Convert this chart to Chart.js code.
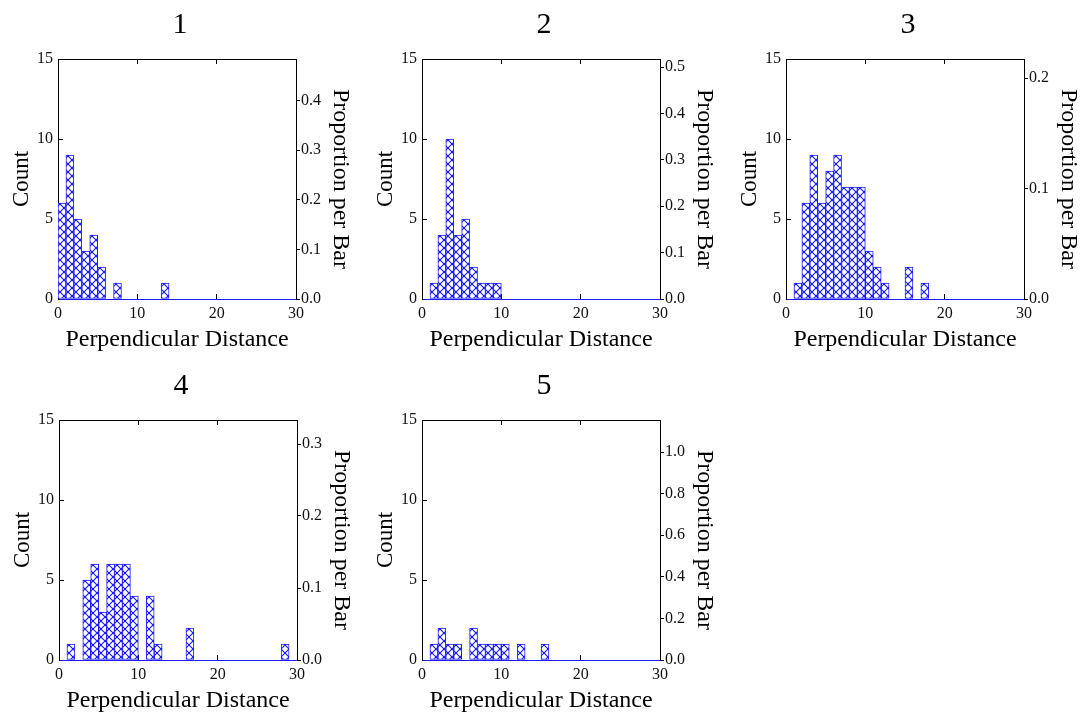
<!DOCTYPE html>
<html>
<head>
<meta charset="utf-8">
<script src="https://cdn.jsdelivr.net/npm/chart.js@4"></script>
<style>
html, body { margin: 0; padding: 0; background: #fff; overflow: hidden; width: 1080px; height: 713px; }
canvas { position: absolute; }
</style>
</head>
<body>
<canvas id="c1" width="360" height="360" style="left:0px;top:0px"></canvas>
<canvas id="c2" width="360" height="360" style="left:364px;top:0px"></canvas>
<canvas id="c3" width="360" height="360" style="left:728px;top:0px"></canvas>
<canvas id="c4" width="360" height="360" style="left:1px;top:361px"></canvas>
<canvas id="c5" width="360" height="360" style="left:364px;top:361px"></canvas>
<script>
// ---- data ----
const binCenters = [0.5, 1.5, 2.5, 3.5, 4.5, 5.5, 6.5, 7.5, 8.5, 9.5,
                    10.5, 11.5, 12.5, 13.5, 14.5, 15.5, 16.5, 17.5, 18.5, 19.5,
                    20.5, 21.5, 22.5, 23.5, 24.5, 25.5, 26.5, 27.5, 28.5, 29.5];
const panelTitles = ['1', '2', '3', '4', '5'];
const counts1 = [6, 9, 5, 3, 4, 2, 0, 1, 0, 0, 0, 0, 0, 1, 0, 0, 0, 0, 0, 0, 0, 0, 0, 0, 0, 0, 0, 0, 0, 0];
const counts2 = [0, 1, 4, 10, 4, 5, 2, 1, 1, 1, 0, 0, 0, 0, 0, 0, 0, 0, 0, 0, 0, 0, 0, 0, 0, 0, 0, 0, 0, 0];
const counts3 = [0, 1, 6, 9, 6, 8, 9, 7, 7, 7, 3, 2, 1, 0, 0, 2, 0, 1, 0, 0, 0, 0, 0, 0, 0, 0, 0, 0, 0, 0];
const counts4 = [0, 1, 0, 5, 6, 3, 6, 6, 6, 4, 0, 4, 1, 0, 0, 0, 2, 0, 0, 0, 0, 0, 0, 0, 0, 0, 0, 0, 1, 0];
const counts5 = [0, 1, 2, 1, 1, 0, 2, 1, 1, 1, 1, 0, 1, 0, 0, 1, 0, 0, 0, 0, 0, 0, 0, 0, 0, 0, 0, 0, 0, 0];
const distanceRange = [0, 30];
const distanceStep = 10;
const countRange = [0, 15];
const countStep = 5;
const xTitle = 'Perpendicular Distance';
const yTitle = 'Count';
const y2Title = 'Proportion per Bar';

// ---- styling ----
const BLUE = '#1c1cff';
const SERIF = '"Liberation Serif", "Times New Roman", serif';

function makePattern() {
  const c = document.createElement('canvas');
  c.width = 8; c.height = 8;
  const g = c.getContext('2d');
  g.fillStyle = '#fff';
  g.fillRect(0, 0, 8, 8);
  g.strokeStyle = BLUE;
  g.lineWidth = 1.1;
  g.beginPath();
  g.moveTo(-1, -1); g.lineTo(9, 9);
  g.moveTo(9, -1); g.lineTo(-1, 9);
  g.stroke();
  g.fillStyle = BLUE;
  g.fillRect(3, 3, 2, 2);
  g.fillRect(0, 0, 1, 1);
  g.fillRect(7, 0, 1, 1);
  g.fillRect(0, 7, 1, 1);
  g.fillRect(7, 7, 1, 1);
  return g.createPattern(c, 'repeat');
}
const hatch = makePattern();

function makePanel(id, counts, title) {
  const total = counts.reduce((a, b) => a + b, 0);
  const propMax = countRange[1] / total;
  const propStep = propMax > 0.6 ? 0.2 : 0.1;
  new Chart(document.getElementById(id), {
    type: 'bar',
    data: {
      datasets: [{
        data: binCenters.map((x, i) => ({ x: x, y: counts[i] })),
        backgroundColor: hatch,
        borderColor: BLUE,
        borderWidth: 1,
        borderSkipped: false,
        barPercentage: 1,
        categoryPercentage: 1,
        xAxisID: 'x',
        yAxisID: 'y'
      }]
    },
    options: {
      responsive: false,
      animation: false,
      devicePixelRatio: 1,
      layout: { padding: 0 },
      events: [],
      plugins: {
        legend: { display: false },
        tooltip: { enabled: false },
        title: {
          display: true, text: title, color: '#000',
          font: { family: SERIF, size: 30, weight: 'normal', lineHeight: 1.2 },
          padding: { top: 7, bottom: 16 }
        }
      },
      scales: {
        x: {
          type: 'linear', position: 'bottom',
          min: distanceRange[0], max: distanceRange[1], offset: false,
          ticks: { stepSize: distanceStep, color: '#111', font: { family: SERIF, size: 16 }, padding: 10, maxRotation: 0, autoSkip: false },
          grid: { offset: false, drawOnChartArea: false, drawTicks: true, tickLength: -5, color: '#000', lineWidth: 1 },
          border: { display: true, color: BLUE, width: 1 },
          title: { display: true, text: xTitle, color: '#000', font: { family: SERIF, size: 24, weight: 'normal', lineHeight: 1.2 }, padding: { top: 0, bottom: 5.6 } },
          afterFit: s => { s.height = 61; }
        },
        xTop: {
          type: 'linear', position: 'top', axis: 'x',
          min: distanceRange[0], max: distanceRange[1], offset: false,
          ticks: { display: false, stepSize: distanceStep },
          grid: { offset: false, drawOnChartArea: false, drawTicks: true, tickLength: -5, color: '#000', lineWidth: 1 },
          border: { display: true, color: '#000', width: 1 },
          afterFit: s => { s.height = 0; }
        },
        y: {
          type: 'linear', position: 'left',
          min: countRange[0], max: countRange[1],
          ticks: { stepSize: countStep, color: '#111', font: { family: SERIF, size: 16 }, padding: 10 },
          grid: { drawOnChartArea: false, drawTicks: true, tickLength: -5, lineWidth: 1,
                  color: c => (c.tick && c.tick.value === 0) ? 'rgba(0,0,0,0)' : '#000' },
          border: { display: true, color: '#000', width: 1 },
          title: { display: true, text: yTitle, color: '#000', font: { family: SERIF, size: 23, weight: 'normal', lineHeight: 1.2 }, padding: { top: 8.2, bottom: 0 } },
          afterFit: s => { s.width = 58; }
        },
        y2: {
          type: 'linear', position: 'right',
          min: 0, max: propMax,
          ticks: { stepSize: propStep, includeBounds: false, color: '#111', font: { family: SERIF, size: 16 }, padding: 1,
                   callback: v => Number(v).toFixed(1) },
          grid: { drawOnChartArea: false, drawTicks: true, tickLength: 4, color: '#000', lineWidth: 1 },
          border: { display: true, color: '#000', width: 1 },
          title: { display: true, text: y2Title, color: '#000', font: { family: SERIF, size: 24, weight: 'normal', lineHeight: 1.2 }, padding: { top: 5.6, bottom: 0 } },
          afterFit: s => { s.width = 64; }
        }
      }
    }
  });
}

makePanel('c1', counts1, panelTitles[0]);
makePanel('c2', counts2, panelTitles[1]);
makePanel('c3', counts3, panelTitles[2]);
makePanel('c4', counts4, panelTitles[3]);
makePanel('c5', counts5, panelTitles[4]);
</script>
</body>
</html>
